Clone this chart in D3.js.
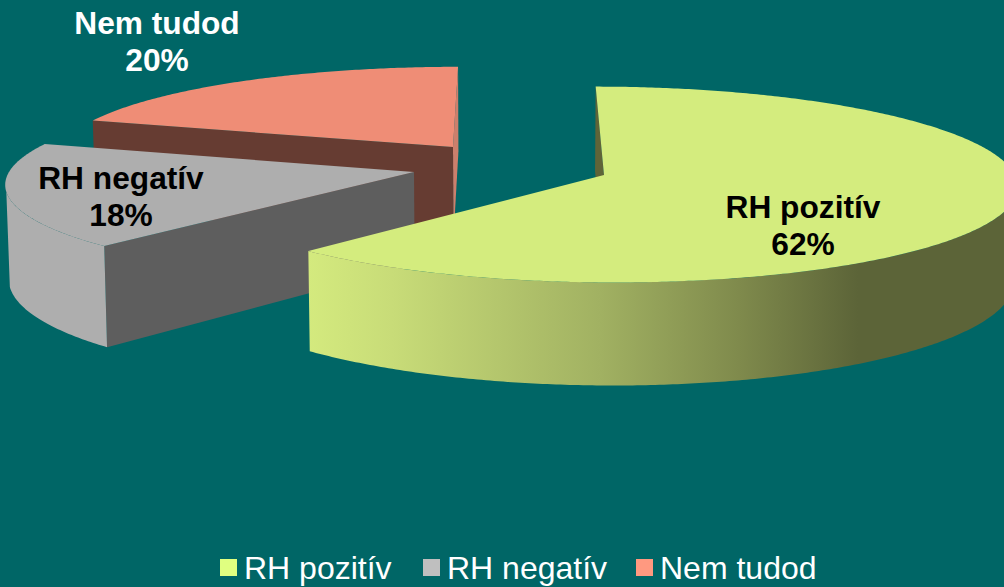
<!DOCTYPE html>
<html>
<head>
<meta charset="utf-8">
<script src="https://cdn.jsdelivr.net/npm/d3@7"></script>
<style>
  html, body { margin: 0; padding: 0; background: #006666; overflow: hidden; }
  svg { display: block; font-family: "Liberation Sans", Arial, sans-serif; }
</style>
</head>
<body>
<svg id="chart" width="1004" height="587"></svg>
<script>
const categories = ["RH pozitív", "RH negatív", "Nem tudod"];
const percents = [62, 18, 20];
const legendColors = ["#e0ff80", "#bfbfbf", "#ff9980"];
const topColors = ["#d4ec7e", "#aeaeae", "#ef8d76"];
const startSideColors = ["#5f6438", "#5e5e5e", "#663c32"];
const endSideColors = ["#5f6438", "#5e5e5e", "#cc7f6c"];
const labelColors = ["#000", "#000", "#fff"];

// where each exploded slice sits on screen
const apexX = [604, 414, 453];
const apexY = [175, 172, 147];
const radiusX = [411, 405, 392];
const radiusY = [97, 93.5, 88];
const tilts = [0.0974, 0.11, 0.0974];
const labelX = [803, 121, 157];
const labelY = [218, 189, 34];
const legendX = [220, 423, 636];

const vanishX = 510;
const wallHeight = 93;

const svg = d3.select("#chart");
const defs = svg.append("defs");

const wallGrad = defs
  .append("linearGradient")
  .attr("id", "green-wall")
  .attr("gradientUnits", "userSpaceOnUse")
  .attr("x1", 308)
  .attr("x2", 1004)
  .attr("y1", 0)
  .attr("y2", 0);
[
  [0, "#d4ea7e"],
  [0.12, "#c8dc78"],
  [0.42, "#a1b162"],
  [0.62, "#7f8a4c"],
  [0.79, "#5c6438"],
  [1, "#5c6438"],
].forEach(([o, c]) => wallGrad.append("stop").attr("offset", o).attr("stop-color", c));

const arcs = d3.pie().sort(null).value((d) => d)(percents);

function project(i, angle, r, bottom) {
  const w = 1 + tilts[i] * r * Math.cos(angle);
  let x = vanishX + (apexX[i] + radiusX[i] * r * Math.sin(angle) - vanishX) / w;
  let y = apexY[i] - (radiusY[i] * r * Math.cos(angle)) / w;
  if (bottom) {
    x = vanishX + (x - vanishX) * 0.993;
    y += wallHeight / w;
  }
  return [x, y];
}

function arcPoints(i, a0, a1, bottom) {
  const n = Math.ceil(Math.abs(a1 - a0) / 0.01);
  return d3.range(n + 1).map((k) => project(i, a0 + ((a1 - a0) * k) / n, 1, bottom));
}

const poly = d3.line().curve(d3.curveLinearClosed);

function drawPoly(points, fill) {
  svg.append("path").attr("d", poly(points)).attr("fill", fill);
}

function drawSide(i, a, fill) {
  drawPoly(
    [project(i, a, 0, false), project(i, a, 1, false), project(i, a, 1, true), project(i, a, 0, true)],
    fill
  );
}

function drawTop(i) {
  const { startAngle, endAngle } = arcs[i];
  drawPoly([project(i, 0, 0, false)].concat(arcPoints(i, startAngle, endAngle, false)), topColors[i]);
}

function drawWall(i, from, to, fill) {
  drawPoly(arcPoints(i, from, to, false).concat(arcPoints(i, to, from, true)), fill);
}

const deg = Math.PI / 180;

// back to front
drawSide(2, arcs[2].endAngle, endSideColors[2]);
drawSide(2, arcs[2].startAngle, startSideColors[2]);
drawTop(2);

drawSide(1, arcs[1].startAngle, startSideColors[1]);
drawWall(1, arcs[1].startAngle, 258 * deg, topColors[1]);
drawTop(1);

drawSide(0, arcs[0].startAngle, startSideColors[0]);
drawWall(0, 100 * deg, arcs[0].endAngle, "url(#green-wall)");
drawTop(0);

categories.forEach((name, i) => {
  const label = svg
    .append("text")
    .attr("text-anchor", "middle")
    .attr("font-size", 31.7)
    .attr("font-weight", "bold")
    .attr("fill", labelColors[i]);
  label.append("tspan").attr("x", labelX[i]).attr("y", labelY[i]).text(name);
  label.append("tspan").attr("x", labelX[i]).attr("y", labelY[i] + 37).text(`${percents[i]}%`);
});

const legend = svg.append("g");
categories.forEach((name, i) => {
  legend
    .append("rect")
    .attr("x", legendX[i])
    .attr("y", 559)
    .attr("width", 17)
    .attr("height", 17)
    .attr("fill", legendColors[i]);
  legend
    .append("text")
    .attr("x", legendX[i] + 24)
    .attr("y", 579)
    .attr("font-size", 32)
    .attr("fill", "#fff")
    .text(name);
});
</script>
</body>
</html>
